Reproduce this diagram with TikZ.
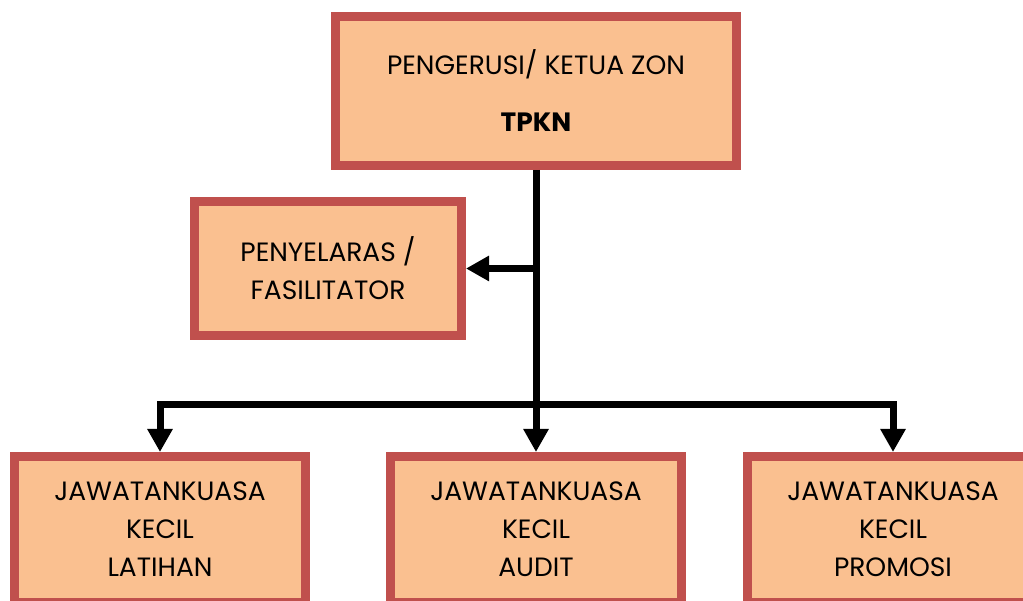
\documentclass[tikz,border=0pt]{standalone}
\usepackage{fontspec}
\setmainfont{Poppins}
\usetikzlibrary{arrows.meta}
\definecolor{boxred}{HTML}{C0504D}
\definecolor{peach}{HTML}{FAC090}
\tikzset{
  orgbox/.style={draw=boxred, line width=8pt, fill=peach, inner sep=0pt,
    align=center, font=\fontsize{26.5}{38}\selectfont, text=black},
  conn/.style={line width=7pt, black, line join=miter},
  tipped/.style={-{Triangle[width=24pt,length=23pt]}}
}
\begin{document}
\begin{tikzpicture}[x=1pt,y=1pt]
\useasboundingbox (0,0) rectangle (1023,600);
\clip (0,0) rectangle (1023,600);
\node[orgbox, minimum width=402pt, minimum height=150pt] (top) at (536,509)
  {PENGERUSI/ KETUA ZON\\[19pt]\textbf{TPKN}};
\node[orgbox, minimum width=268pt, minimum height=135pt] (pen) at (328,331.5)
  {PENYELARAS /\\FASILITATOR};
\node[orgbox, minimum width=292pt, minimum height=147pt] (left) at (160,70.5)
  {JAWATANKUASA\\KECIL\\LATIHAN};
\node[orgbox, minimum width=292pt, minimum height=147pt] (mid) at (536,70.5)
  {JAWATANKUASA\\KECIL\\AUDIT};
\node[orgbox, minimum width=292pt, minimum height=147pt] (right) at (893,70.5)
  {JAWATANKUASA\\KECIL\\PROMOSI};
\foreach \n in {top,pen,left,mid,right}{
  \draw[boxred, line width=2pt] ([xshift=8pt,yshift=-8pt]\n.north west)
    rectangle ([xshift=-8pt,yshift=8pt]\n.south east);
}
\coordinate (bar) at (536,195);
\draw[conn, tipped] (top.south) -- (mid.north);
\draw[conn, tipped] (bar) -| (left.north);
\draw[conn, tipped] (bar) -| (right.north);
\draw[conn, tipped] (top.south |- pen.east) -- (pen.east);
\end{tikzpicture}
\end{document}
